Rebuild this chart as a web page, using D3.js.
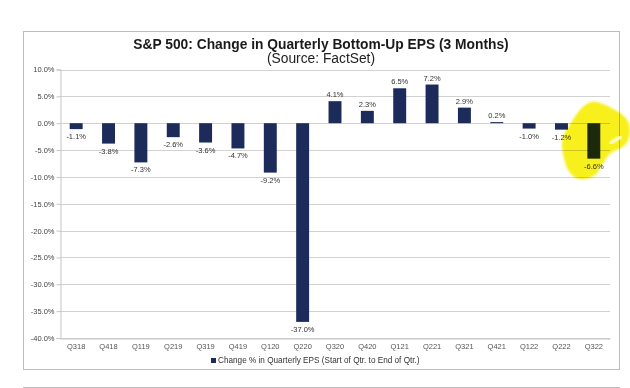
<!DOCTYPE html>
<html>
<head>
<meta charset="utf-8">
<script src="https://cdn.jsdelivr.net/npm/d3@7"></script>
<style>
  body { margin: 0; background: #fff; }
  text { font-family: Arial, "Liberation Sans", sans-serif; }
</style>
</head>
<body>
<div id="chart"></div>
<script>
var quarters = ['Q318', 'Q418', 'Q119', 'Q219', 'Q319', 'Q419', 'Q120', 'Q220', 'Q320',
                'Q420', 'Q121', 'Q221', 'Q321', 'Q421', 'Q122', 'Q222', 'Q322'];
var epsChange = [-1.1, -3.8, -7.3, -2.6, -3.6, -4.7, -9.2, -37.0, 4.1,
                 2.3, 6.5, 7.2, 2.9, 0.2, -1.0, -1.2, -6.6];
var yTicks = [10, 5, 0, -5, -10, -15, -20, -25, -30, -35, -40];
var highlighted = 'Q322';

var width = 630, height = 388;
var svg = d3.select('#chart')
    .append('svg')
    .attr('width', width)
    .attr('height', height);

// outer frames
svg.append('rect')
    .attr('x', 23.5).attr('y', 31.5)
    .attr('width', 596).attr('height', 338)
    .attr('fill', '#fff')
    .attr('stroke', '#bdbdbd');
svg.append('line')
    .attr('x1', 23).attr('x2', 620)
    .attr('y1', 387.5).attr('y2', 387.5)
    .attr('stroke', '#bdbdbd');

svg.append('text')
    .attr('x', 321).attr('y', 48.5)
    .attr('text-anchor', 'middle')
    .attr('font-size', 13.8)
    .attr('font-weight', 'bold')
    .attr('fill', '#1a1a1a')
    .text('S&P 500: Change in Quarterly Bottom-Up EPS (3 Months)');
svg.append('text')
    .attr('x', 321).attr('y', 63)
    .attr('text-anchor', 'middle')
    .attr('font-size', 13.8)
    .attr('fill', '#222')
    .text('(Source: FactSet)');

var x = d3.scaleBand()
    .domain(quarters)
    .range([60, 610])
    .paddingInner(0.6)
    .paddingOuter(0.3);

var y = d3.scaleLinear()
    .domain([-40, 10])
    .range([338, 69.5]);

// gridlines
svg.append('g')
    .selectAll('line')
    .data(yTicks)
    .enter()
    .append('line')
    .attr('x1', 60)
    .attr('x2', 610)
    .attr('y1', function (d) { return Math.round(y(d)) + 0.5; })
    .attr('y2', function (d) { return Math.round(y(d)) + 0.5; })
    .attr('stroke', '#d2d2d2');

// y axis
var yAxis = svg.append('g')
    .attr('transform', 'translate(60.5,0)')
    .call(d3.axisLeft(y)
        .tickValues(yTicks)
        .tickSize(4)
        .tickFormat(function (d) { return d.toFixed(1) + '%'; }));
yAxis.select('.domain').attr('stroke', '#c4c4c4');
yAxis.selectAll('.tick line').attr('stroke', '#c4c4c4');
yAxis.selectAll('.tick text')
    .attr('font-size', 7.5)
    .attr('fill', '#444')
    .attr('x', -6);

// x axis labels
var xAxis = svg.append('g')
    .attr('transform', 'translate(0,338.5)')
    .call(d3.axisBottom(x).tickSize(0));
xAxis.select('.domain').attr('stroke', '#c4c4c4');
xAxis.selectAll('.tick text')
    .attr('font-size', 7.5)
    .attr('fill', '#555')
    .attr('dy', '0.71em')
    .attr('y', 5);

// bars
svg.append('g')
    .selectAll('rect')
    .data(quarters)
    .enter()
    .append('rect')
    .attr('x', function (d) { return x(d); })
    .attr('width', x.bandwidth())
    .attr('y', function (d, i) { return y(Math.max(0, epsChange[i])); })
    .attr('height', function (d, i) { return Math.max(1, Math.abs(y(epsChange[i]) - y(0))); })
    .attr('fill', '#1c2b5a');

// value labels
svg.append('g')
    .selectAll('text')
    .data(quarters)
    .enter()
    .append('text')
    .attr('x', function (d) { return x(d) + x.bandwidth() / 2; })
    .attr('y', function (d, i) {
        var v = epsChange[i];
        return v >= 0 ? y(v) - 4 : y(v) + 10;
    })
    .attr('text-anchor', 'middle')
    .attr('font-size', 7.5)
    .attr('fill', '#333')
    .text(function (d, i) { return epsChange[i].toFixed(1) + '%'; });

// legend
var legend = svg.append('g');
legend.append('rect')
    .attr('x', 211).attr('y', 358)
    .attr('width', 5).attr('height', 5)
    .attr('fill', '#1c2b5a');
legend.append('text')
    .attr('x', 218).attr('y', 363)
    .attr('font-size', 8.2)
    .attr('fill', '#333')
    .text('Change % in Quarterly EPS (Start of Qtr. to End of Qtr.)');

// yellow highlighter mark around the last quarter
var hx = x(highlighted) + x.bandwidth() / 2;
var hy = y(0);
var blob = [[4, -21], [20, -14], [33, -4], [36, 10], [31, 22], [17, 30], [9, 40], [1, 52],
            [-14, 56], [-25, 48], [-31, 30], [-31, 14], [-23, 0], [-15, -12], [-6, -20]];

var defs = svg.append('defs');
defs.append('filter')
    .attr('id', 'soft')
    .append('feGaussianBlur')
    .attr('stdDeviation', 1.2);

svg.append('path')
    .datum(blob)
    .attr('d', d3.line()
        .x(function (d) { return hx + d[0]; })
        .y(function (d) { return hy + d[1]; })
        .curve(d3.curveCardinalClosed))
    .attr('fill', '#f8f01e')
    .attr('filter', 'url(#soft)')
    .style('mix-blend-mode', 'multiply');

svg.append('path')
    .attr('d', 'M' + (hx + 17) + ',' + (hy + 20) + 'Q' + (hx + 22) + ',' + (hy + 16) + ' ' + (hx + 27) + ',' + (hy + 14))
    .attr('fill', 'none')
    .attr('stroke', '#fff')
    .attr('stroke-width', 3)
    .attr('stroke-linecap', 'round')
    .attr('filter', 'url(#soft)');
</script>
</body>
</html>
